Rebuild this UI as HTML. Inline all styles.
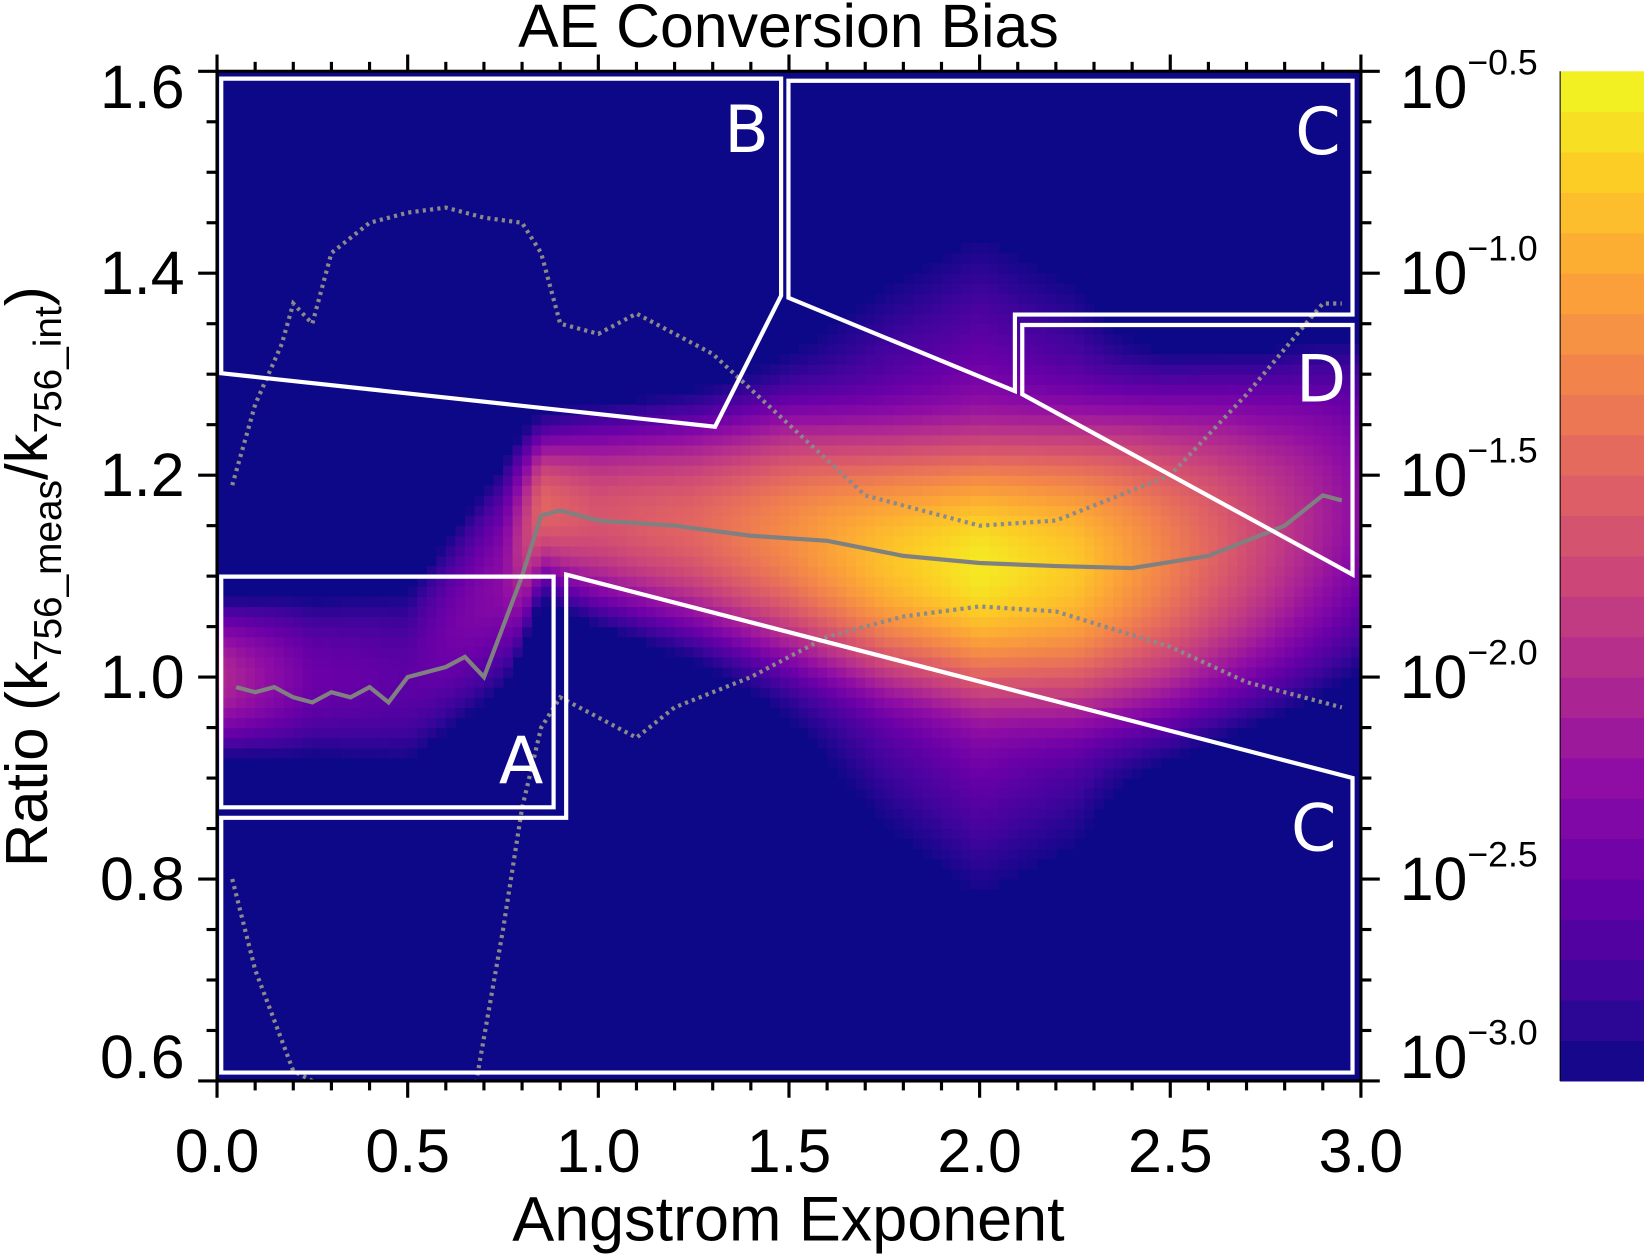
<!DOCTYPE html>
<html><head><meta charset="utf-8"><title>AE Conversion Bias</title>
<style>html,body{margin:0;padding:0;background:#fff;}svg{display:block;font-family:"Liberation Sans",sans-serif;}</style>
</head><body>
<svg id="chart" width="1644" height="1255" viewBox="0 0 1568 1197" preserveAspectRatio="none" xmlns="http://www.w3.org/2000/svg">
<text x="752" y="45" font-size="58" text-anchor="middle">AE Conversion Bias</text>
<g id="heat"></g>
<g id="lines"></g>
<g id="boxes"></g>
<g id="axes"></g>
<g id="cbar"></g>
<text x="752" y="1183" font-size="60" text-anchor="middle">Angstrom Exponent</text>
<text transform="translate(45,550) rotate(-90)" font-size="57" text-anchor="middle">Ratio (k<tspan font-size="37" dy="13">756_meas</tspan><tspan dy="-13">/k</tspan><tspan font-size="37" dy="13">756_int</tspan><tspan dy="-13">)</tspan></text>
</svg>
<script>
// ---- data ----
const knotAE     = [0, 0.1, 0.25, 0.5, 0.75, 0.85, 1.0, 1.25, 1.5, 1.75, 2.0, 2.25, 2.5, 2.75, 3.0];
const knotPeak   = [-2.0, -2.2, -2.5, -2.6, -2.3, -1.5, -1.65, -1.5, -1.2, -0.85, -0.6, -0.8, -1.3, -1.8, -2.3];
const knotCenter = [1.0, 1.0, 1.0, 1.0, 1.1, 1.17, 1.16, 1.15, 1.14, 1.12, 1.11, 1.11, 1.12, 1.14, 1.17];
const knotSigma  = [0.035, 0.04, 0.05, 0.06, 0.06, 0.03, 0.04, 0.045, 0.05, 0.05, 0.05, 0.055, 0.065, 0.075, 0.09];
const medianAE = [0.05,0.1,0.15,0.2,0.25,0.3,0.35,0.4,0.45,0.5,0.55,0.6,0.65,0.7,0.75,0.8,0.85,0.9,1.0,1.2,1.4,1.6,1.8,2.0,2.2,2.4,2.6,2.8,2.9,2.95];
const medianR  = [0.99,0.985,0.99,0.98,0.975,0.985,0.98,0.99,0.975,1.0,1.005,1.01,1.02,1.0,1.05,1.1,1.16,1.165,1.155,1.15,1.14,1.135,1.12,1.113,1.11,1.108,1.12,1.15,1.18,1.175];
const upperAE = [0.04,0.1,0.17,0.2,0.25,0.3,0.4,0.5,0.6,0.7,0.8,0.85,0.9,1.0,1.1,1.3,1.5,1.7,2.0,2.2,2.5,2.7,2.9,2.95];
const upperR  = [1.19,1.27,1.33,1.37,1.35,1.42,1.45,1.46,1.465,1.455,1.45,1.42,1.35,1.34,1.36,1.32,1.25,1.18,1.15,1.155,1.2,1.28,1.37,1.37];
const lowerAE = [0.04,0.1,0.15,0.2,0.25,0.4,0.6,0.68,0.75,0.8,0.85,0.9,1.0,1.1,1.2,1.4,1.6,1.8,2.0,2.2,2.5,2.7,2.9,2.95];
const lowerR  = [0.8,0.71,0.66,0.61,0.6,0.55,0.55,0.6,0.75,0.87,0.95,0.98,0.96,0.94,0.97,1.0,1.04,1.06,1.07,1.065,1.03,0.995,0.975,0.97];
const xTicks = [0.0,0.5,1.0,1.5,2.0,2.5,3.0];
const xTickLabels = ["0.0","0.5","1.0","1.5","2.0","2.5","3.0"];
const yTicks = [0.6,0.8,1.0,1.2,1.4,1.6];
const yTickLabels = ["0.6","0.8","1.0","1.2","1.4","1.6"];
const cbTicks = [-0.5,-1.0,-1.5,-2.0,-2.5,-3.0];
const cbTickLabels = ["−0.5","−1.0","−1.5","−2.0","−2.5","−3.0"];

const NS="http://www.w3.org/2000/svg";
const X0=207, X1=1298, Y0=1031, Y1=68;
const xs = v => X0 + (v-0)/3*(X1-X0);
const ys = v => Y0 - (v-0.6)/1.0*(Y0-Y1);
const cs = v => Y1 + (-0.5 - v)/2.5*(Y0-Y1);
function mk(tag, attrs, parent){const e=document.createElementNS(NS,tag);for(const k in attrs)e.setAttribute(k,attrs[k]);parent.appendChild(e);return e;}
function interp(xArr,yArr,x){if(x<=xArr[0])return yArr[0];for(let i=1;i<xArr.length;i++){if(x<=xArr[i]){const t=(x-xArr[i-1])/(xArr[i]-xArr[i-1]);return yArr[i-1]+t*(yArr[i]-yArr[i-1]);}}return yArr[yArr.length-1];}
const pl=[[0,[13,8,135]],[0.1,[65,4,157]],[0.2,[106,0,168]],[0.3,[143,13,164]],[0.4,[177,42,144]],[0.5,[204,71,120]],[0.6,[225,100,98]],[0.7,[242,132,75]],[0.8,[252,166,54]],[0.9,[252,206,37]],[1,[240,249,33]]];
function cmap(t){t=Math.max(0,Math.min(1,t));for(let i=1;i<pl.length;i++){if(t<=pl[i][0]){const a=pl[i-1],b=pl[i],f=(t-a[0])/(b[0]-a[0]);return 'rgb('+a[1].map((c,j)=>Math.round(c+f*(b[1][j]-c))).join(',')+')';}}return 'rgb(240,249,33)';}

// heatmap
const heat=document.getElementById('heat');
mk('rect',{x:X0,y:Y1,width:X1-X0,height:Y0-Y1,fill:'#0d0887'},heat);
const dA=0.025,dR=0.01;
for(let ae=0.0;ae<2.999;ae+=dA){
  const c=ae+dA/2;
  const pk=interp(knotAE,knotPeak,c), mu=interp(knotAE,knotCenter,c), sg=interp(knotAE,knotSigma,c);
  for(let r=0.6;r<1.599;r+=dR){
    const rc=r+dR/2, d=(rc-mu);
    const core=Math.exp(-0.5*(d/sg)**2), halo=0.025*Math.exp(-0.5*(d/0.13)**2)+0.008*Math.exp(-0.5*(d/0.24)**2);
    const lv=pk+Math.log10(core+halo);
    const t=(lv+3.0)/2.5;
    if(t<=0.01)continue;
    const rect=mk('rect',{x:xs(ae).toFixed(2),y:ys(r+dR).toFixed(2),width:((X1-X0)*dA/3+0.6).toFixed(2),height:((Y0-Y1)*dR+0.6).toFixed(2),fill:cmap(t)},heat);
    
    
  }
}

// lines
const lines=document.getElementById('lines');
const cp=mk('clipPath',{id:'pc'},lines);
mk('rect',{x:X0,y:Y1,width:X1-X0,height:Y0-Y1},cp);
function pathOf(a,r){return a.map((v,i)=>(i?'L':'M')+xs(v).toFixed(1)+','+ys(r[i]).toFixed(1)).join(' ');}
const med=mk('path',{d:pathOf(medianAE,medianR),fill:'none',stroke:'#808080','stroke-width':4,'clip-path':'url(#pc)'},lines);


const up=mk('path',{d:pathOf(upperAE,upperR),fill:'none',stroke:'#8a8a8a','stroke-width':4,'stroke-dasharray':'3 4','clip-path':'url(#pc)'},lines);


const lo=mk('path',{d:pathOf(lowerAE,lowerR),fill:'none',stroke:'#8a8a8a','stroke-width':4,'stroke-dasharray':'3 4','clip-path':'url(#pc)'},lines);



// region boxes
const boxes=document.getElementById('boxes');
const polys=[
 ['region-b-box','211,75 745,75 745,282 682,407 211,356'],
 ['region-c-upper-box','752,77 1290,77 1290,300 968,300 968,373 752,284'],
 ['region-d-box','975,310 1290,310 1290,548 975,376'],
 ['region-a-box','211,550 528,550 528,770 211,770'],
 ['region-c-lower-box','540,548 1290,742 1290,1023 211,1023 211,780 540,780']];
for(const [n,p] of polys){const e=mk('polygon',{points:p,fill:'none',stroke:'#fff','stroke-width':4},boxes);}
const labels=[['B',712,145],['C',1257,147],['D',1260,383],['A',497,747],['C',1253,811]];
for(const [t,x,y] of labels){const e=mk('text',{x:x,y:y,'font-size':62,fill:'#fff','text-anchor':'middle','font-family':'"DejaVu Sans",sans-serif'},boxes);e.textContent=t;}

// axes
const ax=document.getElementById('axes');
mk('rect',{x:X0,y:Y1,width:X1-X0,height:Y0-Y1,fill:'none',stroke:'#000','stroke-width':3},ax);
for(let v=0;v<=3.0001;v+=0.1){
  const maj=Math.abs(v*2-Math.round(v*2))<1e-6, L=maj?16:9;
  mk('line',{x1:xs(v),x2:xs(v),y1:Y0,y2:Y0+L,stroke:'#000','stroke-width':3},ax);
  mk('line',{x1:xs(v),x2:xs(v),y1:Y1,y2:Y1-L,stroke:'#000','stroke-width':3},ax);
}
for(let v=0.6;v<=1.6001;v+=0.05){
  const maj=Math.abs(v*5-Math.round(v*5))<1e-6, L=maj?18:10;
  mk('line',{x1:X0,x2:X0-L,y1:ys(v),y2:ys(v),stroke:'#000','stroke-width':3},ax);
  mk('line',{x1:X1,x2:X1+L,y1:ys(v),y2:ys(v),stroke:'#000','stroke-width':3},ax);
}
function labOff(i){return i==0?-3:(i==5?35:20);}
xTicks.forEach((v,i)=>{const e=mk('text',{x:xs(v),y:1118,'font-size':58,'text-anchor':'middle'},ax);e.textContent=xTickLabels[i];});
yTicks.forEach((v,i)=>{const e=mk('text',{x:176,y:ys(v)+labOff(i),'font-size':58,'text-anchor':'end'},ax);e.textContent=yTickLabels[i];});

// colorbar
const cb=document.getElementById('cbar');
for(let v=-3.0;v<-0.5;v+=0.1){const e=mk('rect',{x:1488,y:cs(v+0.1).toFixed(2),width:80,height:((Y0-Y1)*0.1/2.5+0.5).toFixed(2),fill:cmap((v+0.05+3.0)/2.5)},cb);}
mk('line',{x1:1488,x2:1488,y1:Y1,y2:Y0,stroke:'#000','stroke-width':1},cb);
cbTicks.forEach((v,i)=>{const y=cs(v)+labOff(5-i);const e=mk('text',{x:1335,y:y,'font-size':58},cb);
 e.innerHTML='10<tspan font-size="34" dy="-32">'+cbTickLabels[i]+'</tspan>';});
</script>
</body></html>
